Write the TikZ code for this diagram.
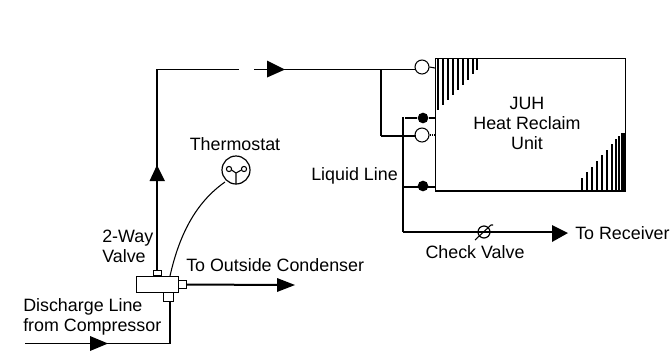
\documentclass[tikz,border=0pt]{standalone}
\usepackage{fontspec}
\setmainfont{Liberation Sans}
\tikzset{
 x=0.75pt,y=-0.75pt,
 pipe/.style={draw=black,line width=0.8pt},
 thick pipe/.style={draw=black,line width=1.5pt},
 lab/.style={font=\fontsize{13.4}{15}\selectfont,inner sep=0pt,align=center,text=black},
 head/.style={fill=black,draw=none},
 port/.style={draw=black,line width=0.8pt,fill=white,minimum width=#1,inner sep=0pt,shape=rectangle},
 hollow/.style={circle,draw=black,line width=0.8pt,fill=white,minimum size=10.5pt,inner sep=0pt},
 solid dot/.style={circle,fill=black,minimum size=8pt,inner sep=0pt},
 hatch/.style={draw=black,line width=1.05pt}
}
\begin{document}
\begin{tikzpicture}
\useasboundingbox (0,0) rectangle (670,351);
\fill[white] (0,0) rectangle (670,351);
% unit
\node[draw=black,line width=0.8pt,minimum width=142.5pt,minimum height=99pt,inner sep=0pt,anchor=north west] (unit) at (435,58) {};
\draw[line width=1.1pt] (unit.south west) -- (unit.south east);
\foreach \x/\e in {438/110,443/105,448/100,453/95,458/90,463/85,468/80,473/74,477/70}{\draw[hatch] (\x,58) -- (\x,\e);}
\foreach \x/\t in {582/178,587/172,592/167,597/161,602/155,607/150,612/144,616/139,619/136,622/133,624/133}{\draw[hatch] (\x,190) -- (\x,\t);}
\node[lab] (title) at (527,123) {JUH\\Heat Reclaim\\Unit};
% junction nodes
\node[hollow] (c1) at (422,67) {};
\node[hollow] (c2) at (422,135) {};
\node[solid dot] (d1) at (423,118) {};
\node[solid dot] (d2) at (423,186) {};
\coordinate (topcorner) at (157,69.5);
\coordinate (gapA) at (239,69.5);
\coordinate (gapB) at (254,69.5);
\coordinate (c1in) at (415,69.5);
\coordinate (branch) at (381,69.5);
\coordinate (branchlow) at (381,136);
\coordinate (c2in) at (416,136);
\coordinate (liqtop) at (403,117);
\coordinate (liqmid) at (403,187);
\coordinate (liqbot) at (403,232);
\coordinate (rcv) at (560,232);
\coordinate (uT) at (435,118);
\coordinate (uB) at (435,187);
\coordinate (uC) at (435,135);
\coordinate (uA) at (435,68);
% valve
\node[port=31.5pt,minimum height=12pt,anchor=north west] (valve) at (136,276) {};
\node[port=6.5pt,minimum height=3.5pt,anchor=south] (ptop) at (157.5,276) {};
\node[port=6pt,minimum height=6.5pt,anchor=west] (pright) at (178,284.5) {};
\node[port=8pt,minimum height=6.5pt,anchor=north] (pbot) at (168.5,292) {};
% pipes
\draw[pipe] (ptop.north -| topcorner) -- (topcorner) -- (gapA);
\draw[pipe] (gapB) -- (c1in);
\draw[pipe] (branch) -- (branchlow);
\draw[thick pipe] (branchlow) -- (c2in);
\draw[pipe,densely dotted] (c2.east) -- (uC);
\draw[pipe] (c1.east) -- (uA);
\draw[pipe] (liqtop) -- (liqbot);
\draw[thick pipe] (405,118) -- (d1) -- (uT);
\draw[thick pipe] (liqmid) -- (uB);
\draw[thick pipe] (liqbot) -- (rcv);
\draw[thick pipe] (pright.east) -- (285,285);
\coordinate (disc) at (25,343.5);
\draw[pipe] (pbot.south -| 170,0) -- (170,343.5) -- (disc);
% arrow heads
\fill[head] (157,165) -- (165,181) -- (149.5,181) -- cycle;
\fill[head] (285,69.5) -- (267,60.5) -- (267,77.5) -- cycle;
\fill[head] (108,343.5) -- (90,336) -- (90,351) -- cycle;
\fill[head] (295,285) -- (277,278) -- (277,292) -- cycle;
\fill[head] (568,233) -- (552,225) -- (552,242) -- cycle;
% check valve
\node[circle,draw=black,line width=0.9pt,minimum size=9pt,inner sep=0pt] (chk) at (484,232) {};
\draw[pipe] (475,240) -- (491,225) -- (493,225);
% thermostat
\node[circle,draw=black,line width=0.9pt,minimum size=21pt,inner sep=0pt] (th) at (236,170) {};
\draw[pipe] (170,276) .. controls (179,236) and (195,203) .. (225,182);
\draw[line width=0.8pt] (229,169) circle (2.6) (244,169) circle (2.6);
\draw[line width=0.8pt] (231.6,170) -- (236,173) -- (241.4,170) (236,173) -- (236,184);
% labels
\node[lab] (tl) at (235,144) {Thermostat};
\node[lab,anchor=east] (ll) at (398,176) {Liquid Line};
\node[lab,anchor=west] (rc) at (575,233) {To Receiver};
\node[lab] (cv) at (475,252) {Check Valve};
\node[lab,anchor=west] (oc) at (186,265) {To Outside Condenser};
\node[lab,align=left,anchor=north west] (wv) at (102,230) {2-Way\\Valve};
\node[lab,align=left,anchor=north west] (dl) at (23,298) {Discharge Line\\from Compressor};
\end{tikzpicture}
\end{document}
